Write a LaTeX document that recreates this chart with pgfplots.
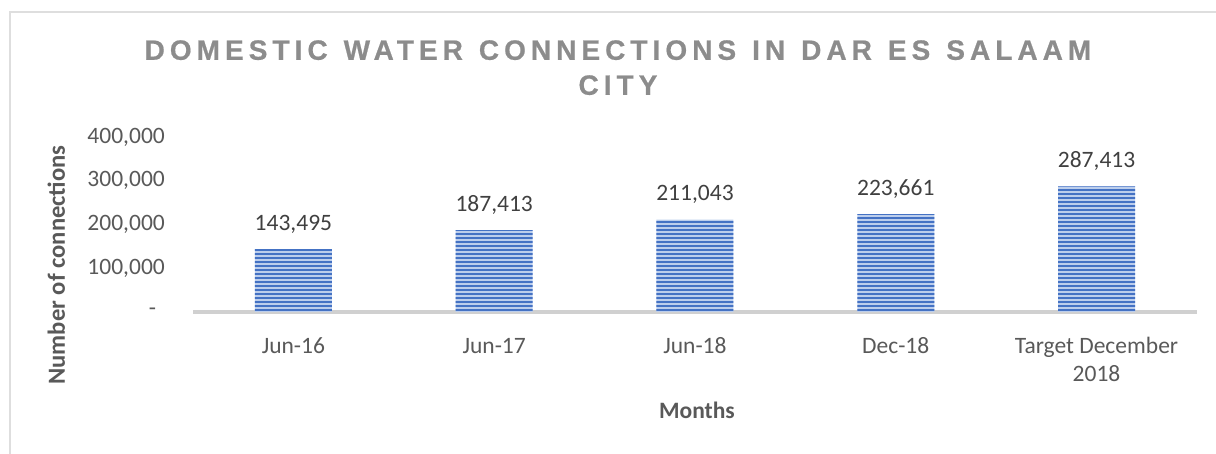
\documentclass[border=0pt]{standalone}
\usepackage{pgfplots}
\pgfplotsset{compat=1.18}
\usepackage{fontspec}
\setmainfont{Carlito}
\newfontfamily\titlefont[LetterSpace=18,FakeBold=0.6]{Liberation Sans Bold}
\newcommand\tsp{\hspace{16bp}}
\usetikzlibrary{patterns.meta}
\definecolor{titlegray}{RGB}{140,140,140}
\definecolor{labgray}{RGB}{89,89,89}
\definecolor{datagray}{RGB}{64,64,64}
\definecolor{axisgray}{RGB}{208,208,208}
\definecolor{framegray}{RGB}{222,222,222}
\definecolor{barlight}{RGB}{188,206,236}
\definecolor{bardark}{RGB}{68,114,196}
\begin{document}
\begin{tikzpicture}
\useasboundingbox (0,0) rectangle (1216bp,454bp);
\draw[framegray, line width=1.2bp] (10bp,-20bp) -- (10bp,442bp) -- (1240bp,442bp);
\begin{axis}[
  at={(193bp,142bp)}, anchor=south west,
  scale only axis, width=1004bp, height=175bp,
  xmin=-0.5, xmax=4.5, ymin=0, ymax=400000,
  scaled y ticks=false,
  axis x line*=bottom, axis y line*=left,
  x axis line style={draw=axisgray, line width=4bp, -},
  y axis line style={draw=none},
  major tick length=0pt,
  xtick=data,
  xticklabels={Jun-16,Jun-17,Jun-18,Dec-18,{\begin{tabular}[t]{@{}c@{}}Target December\\2018\end{tabular}}},
  ytick={0,100000,200000,300000,400000},
  yticklabels={{\makebox[16bp][l]{-}},{100,000},{200,000},{300,000},{400,000}},
  tick label style={font=\fontsize{23.5bp}{28.7bp}\selectfont, color=labgray},
  xticklabel style={anchor=base, yshift=-41bp, inner sep=0pt},
  yticklabel style={anchor=east, inner sep=0pt, xshift=-28bp},
  /pgf/number format/.cd, 1000 sep={,}, fixed, precision=0, assume math mode=true,
  /pgfplots/.cd,
  ybar, bar width=77bp,
  nodes near coords,
  every node near coord/.append style={font=\fontsize{23.5bp}{28.7bp}\selectfont, color=datagray, anchor=base, yshift=19bp, inner sep=0pt},
  title={DOMESTIC\tsp WATER\tsp CONNECTIONS\tsp IN\tsp DAR\tsp ES\tsp SALAAM\\CITY},
  title style={font=\titlefont\fontsize{28bp}{35bp}\selectfont, color=titlegray, align=center, anchor=north, inner sep=0pt, at={(axis description cs:0.4233,1.52)}},
  xlabel={Months},
  xlabel style={font=\bfseries\fontsize{23.5bp}{28.7bp}\selectfont, color=labgray, anchor=base, inner sep=0pt, at={(axis description cs:0.502,-0.611)}},
  ylabel={Number of connections},
  ylabel style={font=\bfseries\fontsize{24.6bp}{29bp}\selectfont, color=labgray, anchor=base, inner sep=0pt, at={(axis description cs:-0.1275,0.2686)}},
]
\addplot[fill=barlight, draw=none, postaction={pattern={Lines[angle=0, distance=4bp, line width=2bp]}, pattern color=bardark}]
  coordinates {(0,143495) (1,187413) (2,211043) (3,223661) (4,287413)};
\end{axis}
\end{tikzpicture}
\end{document}
